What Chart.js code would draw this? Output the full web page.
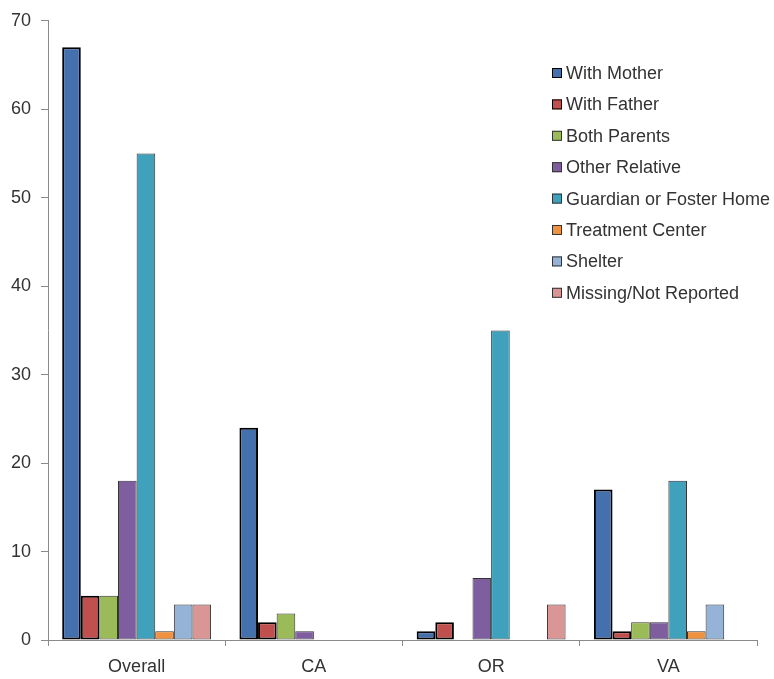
<!DOCTYPE html>
<html>
<head>
<meta charset="utf-8">
<script src="https://cdn.jsdelivr.net/npm/chart.js@4"></script>
<style>
  html, body { margin: 0; padding: 0; background: #fff; }
  #wrap { width: 774px; height: 679px; }
</style>
</head>
<body>
<div id="wrap"><canvas id="livingChart"></canvas></div>
<script>
// living situation counts by site
const categories = ['Overall', 'CA', 'OR', 'VA'];
const seriesNames = ['With Mother', 'With Father', 'Both Parents', 'Other Relative',
  'Guardian or Foster Home', 'Treatment Center', 'Shelter', 'Missing/Not Reported'];
const withMother   = [67, 24, 1, 17];
const withFather   = [5, 2, 2, 1];
const bothParents  = [5, 3, null, 2];
const otherRelative = [18, 1, 7, 2];
const guardian     = [55, null, 35, 18];
const treatment    = [1, null, null, 1];
const shelter      = [4, null, null, 4];
const missing      = [4, null, 4, null];
const yTicks = [0, 10, 20, 30, 40, 50, 60, 70];

const colors = ['#4470ae', '#c0504d', '#9bbb59', '#7f5ea0', '#3fa1bb', '#f0913f', '#95b3d7', '#d99694'];
const seriesData = [withMother, withFather, bothParents, otherRelative, guardian, treatment, shelter, missing];
const fontFamily = '"Liberation Sans", Arial, sans-serif';

const datasets = seriesData.map((vals, i) => ({
  label: seriesNames[i],
  data: vals,
  backgroundColor: colors[i],
  borderColor: i < 2 ? '#000' : '#333',
  borderWidth: i < 2 ? 2 : 1,
  borderSkipped: false,
  barPercentage: 1.0,
  categoryPercentage: 0.84
}));

// legend drawn inside the plot area, top right
const insideLegend = {
  id: 'insideLegend',
  afterDraw(chart) {
    const ctx = chart.ctx;
    ctx.save();
    ctx.font = '18px ' + fontFamily;
    ctx.textBaseline = 'middle';
    chart.data.datasets.forEach((ds, i) => {
      const y = 73 + i * 31.4;
      ctx.fillStyle = ds.backgroundColor;
      ctx.fillRect(552, y - 5, 10, 10);
      ctx.strokeStyle = i < 2 ? '#000' : '#333';
      ctx.lineWidth = 1;
      ctx.strokeRect(552.5, y - 4.5, 9, 9);
      ctx.fillStyle = '#333';
      ctx.fillText(ds.label, 566, y + 1);
    });
    ctx.restore();
  }
};

new Chart(document.getElementById('livingChart'), {
  type: 'bar',
  data: { labels: categories, datasets: datasets },
  options: {
    responsive: true,
    maintainAspectRatio: false,
    animation: false,
    layout: { padding: { top: 17, right: 17, left: 0, bottom: 0 } },
    plugins: {
      legend: { display: false },
      tooltip: { enabled: false }
    },
    scales: {
      x: {
        offset: true,
        grid: { offset: true, drawOnChartArea: false, drawTicks: true, tickLength: 6, color: '#8a8a8a' },
        border: { color: '#8a8a8a', width: 1 },
        ticks: { color: '#333', font: { size: 18, family: fontFamily }, padding: 10 },
        afterFit: s => { s.height = 39; }
      },
      y: {
        min: 0,
        max: 70,
        afterBuildTicks: s => { s.ticks = yTicks.map(v => ({ value: v })); },
        grid: { drawOnChartArea: false, drawTicks: true, tickLength: 7, color: '#8a8a8a' },
        border: { color: '#8a8a8a', width: 1 },
        ticks: { color: '#333', font: { size: 18, family: fontFamily }, padding: 10 },
        afterFit: s => { s.width = 48; }
      }
    }
  },
  plugins: [insideLegend]
});
</script>
</body>
</html>
